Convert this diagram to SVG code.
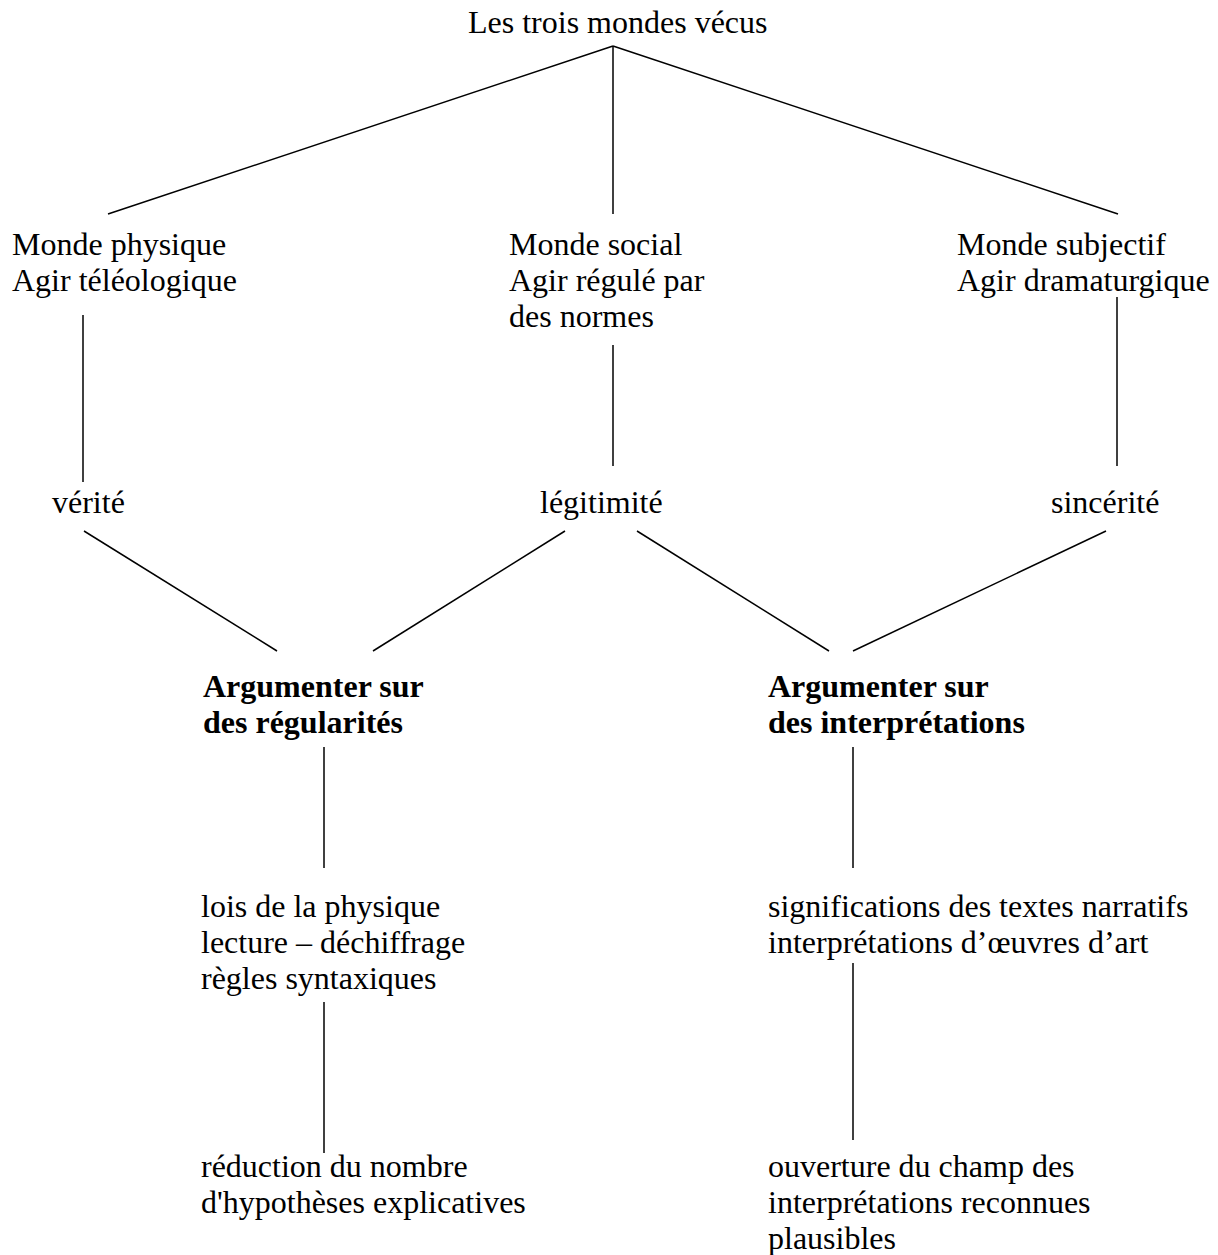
<svg xmlns="http://www.w3.org/2000/svg" width="1218" height="1255" viewBox="0 0 1218 1255">
<style>
text{font-family:"Liberation Serif","Times New Roman",serif;font-size:32px;fill:#000}
.b{font-weight:bold}
#connectors line{stroke:#000;stroke-width:1.5}
</style>
<rect width="1218" height="1255" fill="#fff"/>
<g id="connectors">
<line x1="613" y1="46" x2="108" y2="214"/>
<line x1="613" y1="46" x2="613" y2="214"/>
<line x1="613" y1="46" x2="1118" y2="214"/>
<line x1="83" y1="315" x2="83" y2="482"/>
<line x1="613" y1="345" x2="613" y2="466"/>
<line x1="1117" y1="297" x2="1117" y2="466"/>
<line x1="84" y1="531" x2="277" y2="651"/>
<line x1="565" y1="531" x2="373" y2="651"/>
<line x1="637" y1="531" x2="829" y2="651"/>
<line x1="1106" y1="531" x2="853" y2="651"/>
<line x1="324" y1="747" x2="324" y2="868"/>
<line x1="853" y1="747" x2="853" y2="868"/>
<line x1="324" y1="1002" x2="324" y2="1153"/>
<line x1="853" y1="963" x2="853" y2="1140"/>
</g>
<g id="root"><text x="468" y="33">Les trois mondes vécus</text></g>
<g id="physique"><text x="12" y="255">Monde physique</text><text x="12" y="291">Agir téléologique</text></g>
<g id="social"><text x="509" y="255">Monde social</text><text x="509" y="291">Agir régulé par</text><text x="509" y="327">des normes</text></g>
<g id="subjectif"><text x="957" y="255">Monde subjectif</text><text x="957" y="291">Agir dramaturgique</text></g>
<g id="verite"><text x="52" y="513">vérité</text></g>
<g id="legitimite"><text x="540" y="513">légitimité</text></g>
<g id="sincerite"><text x="1051" y="513">sincérité</text></g>
<g id="regularites"><text class="b" x="203" y="697">Argumenter sur</text><text class="b" x="203" y="733">des régularités</text></g>
<g id="interpretations"><text class="b" x="768" y="697">Argumenter sur</text><text class="b" x="768" y="733">des interprétations</text></g>
<g id="lois"><text x="201" y="917">lois de la physique</text><text x="201" y="953">lecture – déchiffrage</text><text x="201" y="989">règles syntaxiques</text></g>
<g id="significations"><text x="768" y="917">significations des textes narratifs</text><text x="768" y="953">interprétations d’œuvres d’art</text></g>
<g id="reduction"><text x="201" y="1177">réduction du nombre</text><text x="201" y="1213">d'hypothèses explicatives</text></g>
<g id="ouverture"><text x="768" y="1177">ouverture du champ des</text><text x="768" y="1213">interprétations reconnues</text><text x="768" y="1249">plausibles</text></g>
</svg>
